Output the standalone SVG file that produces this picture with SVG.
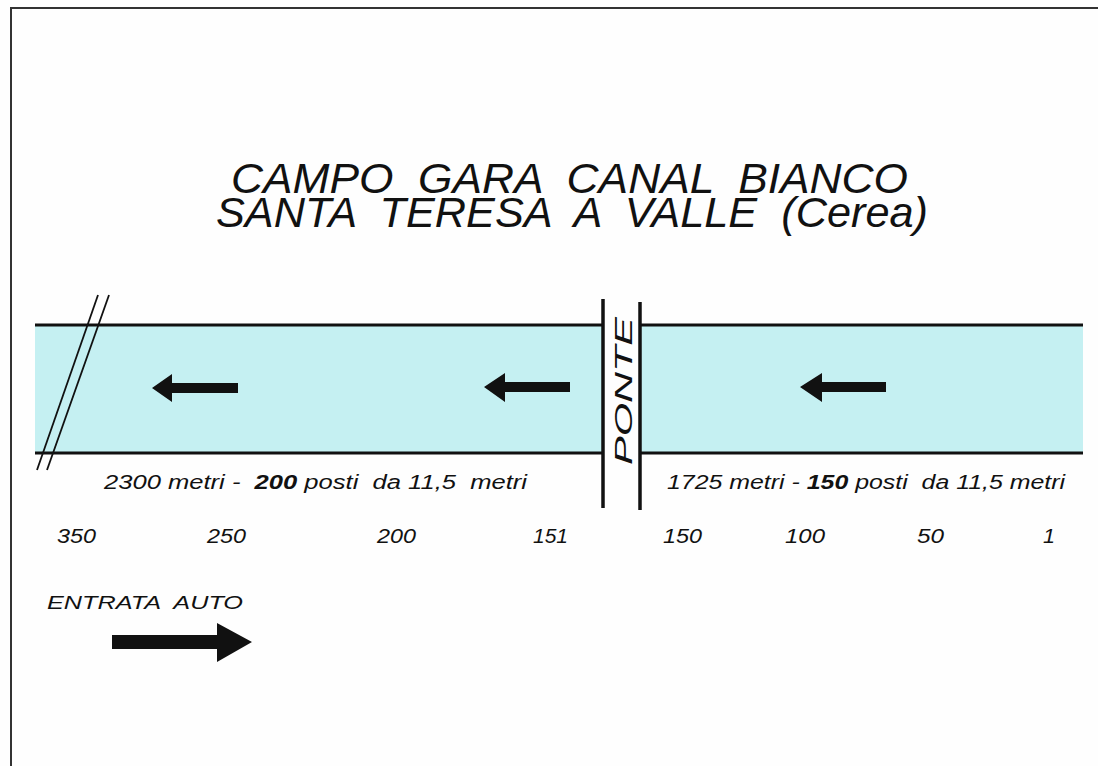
<svg xmlns="http://www.w3.org/2000/svg" width="1098" height="766" viewBox="0 0 1098 766">
<style>
.t{font-family:"Liberation Sans",Arial,sans-serif;font-style:italic;fill:#111;white-space:pre}
.bank{stroke:#111;stroke-width:3;fill:none}
.water{fill:#c5f0f2}
.arr{fill:#111}
</style>
<rect x="0" y="0" width="1098" height="766" fill="#fefefe"/>
<path d="M11,766 V8 H1098" fill="none" stroke="#333" stroke-width="2"/>
<g id="title" font-size="42">
<text class="t" x="231" y="193" xml:space="preserve" textLength="677" lengthAdjust="spacingAndGlyphs">CAMPO  GARA  CANAL  BIANCO</text>
<text class="t" x="216" y="227" xml:space="preserve" textLength="712" lengthAdjust="spacingAndGlyphs">SANTA  TERESA  A  VALLE  (Cerea)</text>
</g>
<g id="canal-left">
<rect class="water" x="35" y="325" width="567" height="128"/>
<line class="bank" x1="35" y1="325" x2="602" y2="325"/>
<line class="bank" x1="35" y1="453" x2="602" y2="453"/>
</g>
<g id="canal-right">
<rect class="water" x="640" y="325" width="443" height="128"/>
<line class="bank" x1="640" y1="325" x2="1083" y2="325"/>
<line class="bank" x1="640" y1="453" x2="1083" y2="453"/>
</g>
<g id="break">
<line x1="98" y1="295" x2="37" y2="470" stroke="#111" stroke-width="1.8"/>
<line x1="109" y1="295" x2="47" y2="470" stroke="#111" stroke-width="1.8"/>
</g>
<g id="ponte">
<line x1="603" y1="299" x2="603" y2="508" stroke="#111" stroke-width="3.5"/>
<line x1="640" y1="302" x2="640" y2="510" stroke="#111" stroke-width="3.5"/>
<text class="t" transform="translate(632,391) rotate(-90)" x="0" y="0" font-size="24" text-anchor="middle" textLength="148" lengthAdjust="spacingAndGlyphs">PONTE</text>
</g>
<g id="flow-arrows">
<path class="arr" d="M152,388 L172,374 L172,383 L238,383 L238,393 L172,393 L172,402 Z"/>
<path class="arr" d="M484,387 L505,373 L505,382 L570,382 L570,392 L505,392 L505,402 Z"/>
<path class="arr" d="M800,387 L822,373 L822,382 L886,382 L886,392 L822,392 L822,402 Z"/>
</g>
<g id="labels" font-size="20">
<text class="t" x="104" y="489" xml:space="preserve" textLength="423" lengthAdjust="spacingAndGlyphs">2300 metri -  <tspan font-weight="bold">200</tspan> posti  da 11,5  metri</text>
<text class="t" x="667" y="489" xml:space="preserve" textLength="398" lengthAdjust="spacingAndGlyphs">1725 metri - <tspan font-weight="bold">150</tspan> posti  da 11,5 metri</text>
</g>
<g id="numbers" font-size="20">
<text class="t" x="57" y="543" textLength="39" lengthAdjust="spacingAndGlyphs">350</text>
<text class="t" x="207" y="543" textLength="39" lengthAdjust="spacingAndGlyphs">250</text>
<text class="t" x="377" y="543" textLength="39" lengthAdjust="spacingAndGlyphs">200</text>
<text class="t" x="533" y="543" textLength="35" lengthAdjust="spacingAndGlyphs">151</text>
<text class="t" x="663" y="543" textLength="39" lengthAdjust="spacingAndGlyphs">150</text>
<text class="t" x="785" y="543" textLength="40" lengthAdjust="spacingAndGlyphs">100</text>
<text class="t" x="917" y="543" textLength="27" lengthAdjust="spacingAndGlyphs">50</text>
<text class="t" x="1043" y="543" textLength="12" lengthAdjust="spacingAndGlyphs">1</text>
</g>
<g id="entrata">
<text class="t" x="47" y="609" font-size="19" xml:space="preserve" textLength="196" lengthAdjust="spacingAndGlyphs">ENTRATA  AUTO</text>
<path class="arr" d="M112,635 L217,635 L217,623 L252,642 L217,662 L217,649 L112,649 Z"/>
</g>
</svg>
